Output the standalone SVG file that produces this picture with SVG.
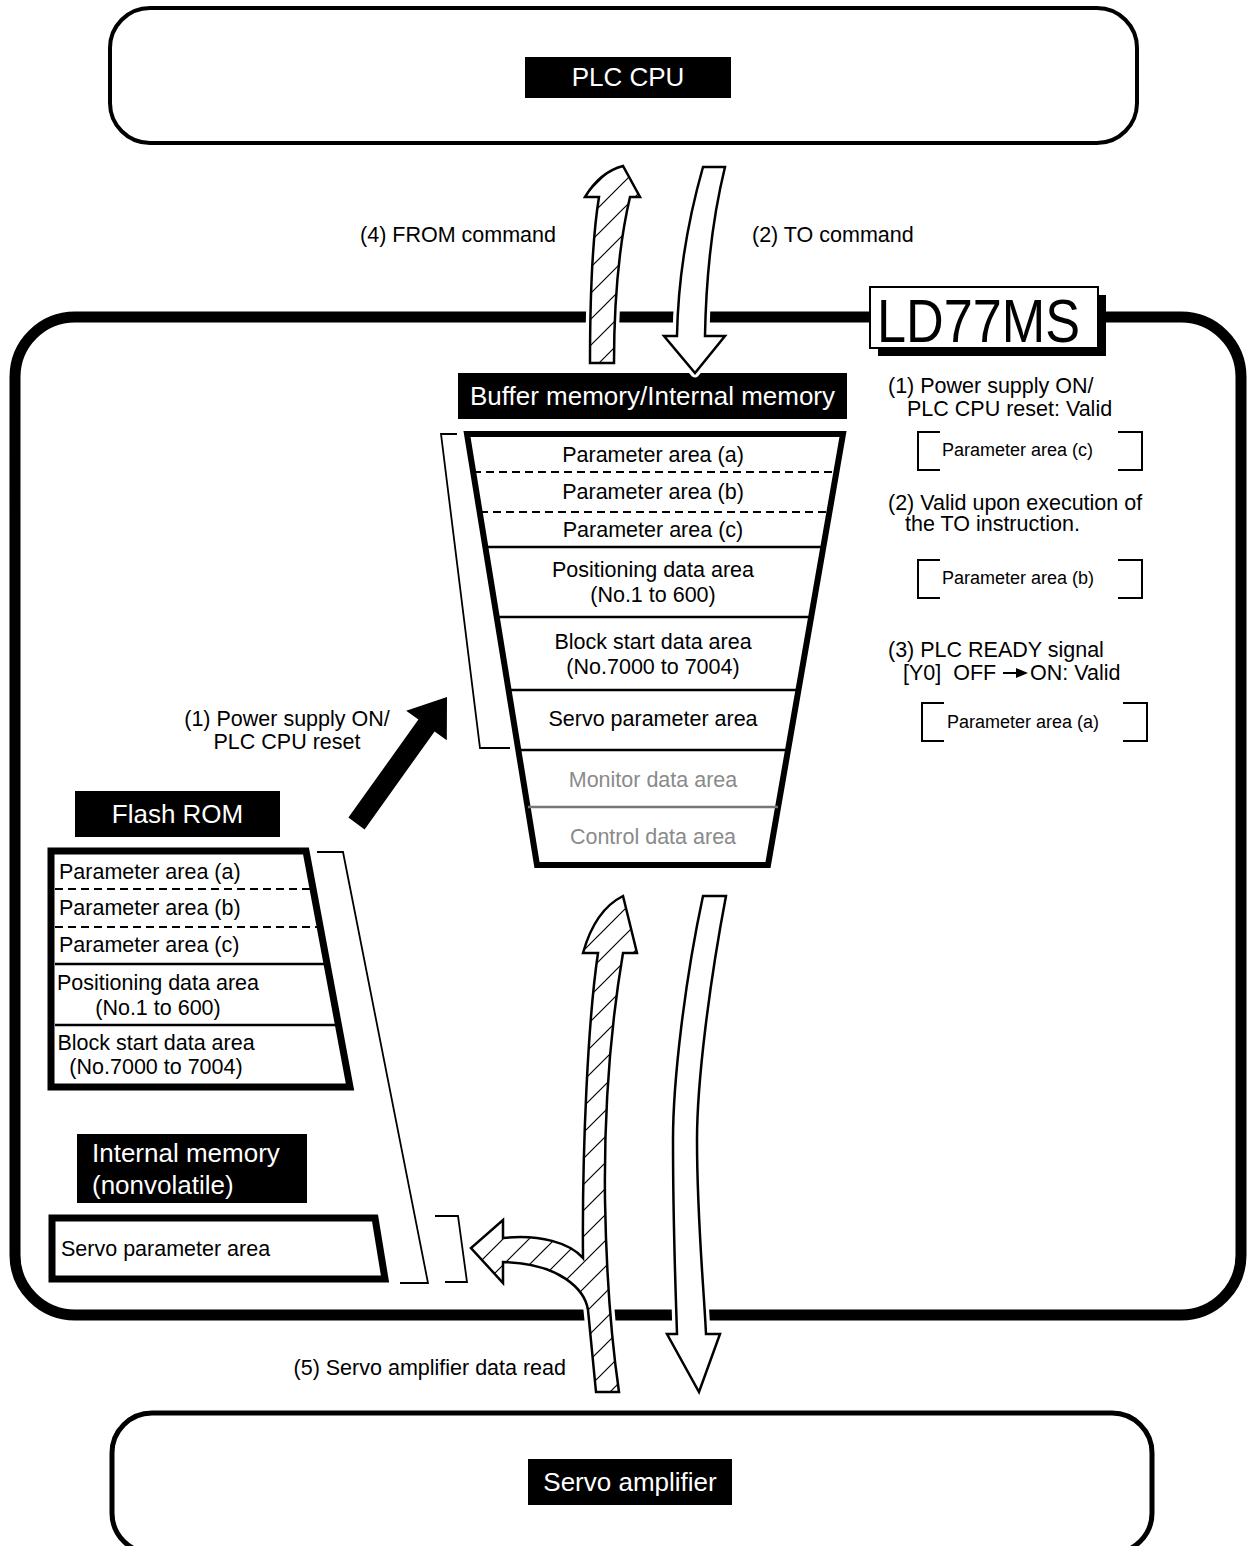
<svg xmlns="http://www.w3.org/2000/svg" width="1247" height="1546" viewBox="0 0 1247 1546">
<defs>
<pattern id="hatch" patternUnits="userSpaceOnUse" width="26" height="26">
<rect width="26" height="26" fill="#fff"/>
<path d="M-6.5,6.5 L6.5,-6.5 M0,26 L26,0 M19.5,32.5 L32.5,19.5" stroke="#000" stroke-width="1.2"/>
</pattern>
<style>
text{font-family:"Liberation Sans",Arial,Helvetica,sans-serif;fill:#000}
.t{font-size:21.5px}
.s{font-size:18px}
.w{font-size:26px;fill:#fff}
.g{fill:#8a8a8a}
.mid{text-anchor:middle}
.end{text-anchor:end}
.lbl{fill:#000}
.dash{stroke:#000;stroke-width:2.2;stroke-dasharray:8 5;fill:none}
.sol{stroke:#000;stroke-width:2.6;fill:none}
.thin{stroke:#000;stroke-width:1.8;fill:none}
.brk{stroke:#000;stroke-width:2;fill:none}
.under{fill:none;stroke:#fff;stroke-width:9;stroke-linejoin:round}
.hat{fill:url(#hatch);stroke:#000;stroke-width:2.5;stroke-linejoin:miter}
.hol{fill:#fff;stroke:#000;stroke-width:2.5;stroke-linejoin:miter}
</style>
</defs>
<rect width="1247" height="1546" fill="#fff"/>

<g id="plc-cpu">
<rect x="110" y="8" width="1027" height="135" rx="40" fill="none" stroke="#000" stroke-width="4"/>
<rect class="lbl" x="525" y="57" width="206" height="41"/>
<text class="w mid" x="628" y="86">PLC CPU</text>
</g>

<g id="ld77ms">
<rect x="15" y="317" width="1226" height="998" rx="60" fill="none" stroke="#000" stroke-width="11"/>
<rect x="878" y="295" width="228" height="61" fill="#000"/>
<rect x="870" y="287" width="228" height="61" fill="#fff" stroke="#000" stroke-width="2"/>
<text x="877" y="342" font-size="61" textLength="203" lengthAdjust="spacingAndGlyphs">LD77MS</text>
</g>

<g id="servo-amplifier">
<rect x="112" y="1413" width="1040" height="140" rx="40" fill="none" stroke="#000" stroke-width="5"/>
<rect class="lbl" x="528" y="1459" width="204" height="46"/>
<text class="w mid" x="630" y="1491">Servo amplifier</text>
</g>

<g id="buffer-memory">
<rect class="lbl" x="458" y="373" width="389" height="46"/>
<text class="w mid" x="652.5" y="405">Buffer memory/Internal memory</text>
<polygon points="467,434 843,434 768,865 537,865" fill="#fff" stroke="#000" stroke-width="6"/>
<line class="dash" x1="473" y1="472" x2="836" y2="472"/>
<line class="dash" x1="480" y1="512" x2="829" y2="512"/>
<line class="sol" x1="485" y1="547" x2="823" y2="547"/>
<line class="sol" x1="497" y1="617" x2="811" y2="617"/>
<line class="sol" x1="509" y1="690" x2="798" y2="690"/>
<line class="sol" x1="518" y1="750" x2="788" y2="750"/>
<line x1="528" y1="807" x2="778" y2="807" stroke="#777" stroke-width="2.6"/>
<text class="t mid" x="653" y="462">Parameter area (a)</text>
<text class="t mid" x="653" y="499">Parameter area (b)</text>
<text class="t mid" x="653" y="537">Parameter area (c)</text>
<text class="t mid" x="653" y="577">Positioning data area</text>
<text class="t mid" x="653" y="602">(No.1 to 600)</text>
<text class="t mid" x="653" y="649">Block start data area</text>
<text class="t mid" x="653" y="674">(No.7000 to 7004)</text>
<text class="t mid" x="653" y="726">Servo parameter area</text>
<text class="t mid g" x="653" y="787">Monitor data area</text>
<text class="t mid g" x="653" y="844">Control data area</text>
<path class="thin" d="M457,434 H441 L480,748 H510"/>
</g>

<g id="flash-rom">
<rect class="lbl" x="75" y="791" width="205" height="46"/>
<text class="w mid" x="177.5" y="823">Flash ROM</text>
<polygon points="51,851 306,851 350,1087 51,1087" fill="#fff" stroke="#000" stroke-width="7"/>
<line class="dash" x1="55" y1="889" x2="312" y2="889"/>
<line class="dash" x1="55" y1="927" x2="319" y2="927"/>
<line class="sol" x1="55" y1="964" x2="326" y2="964"/>
<line class="sol" x1="55" y1="1025" x2="337" y2="1025"/>
<text class="t" x="59" y="879">Parameter area (a)</text>
<text class="t" x="59" y="915">Parameter area (b)</text>
<text class="t" x="59" y="952">Parameter area (c)</text>
<text class="t mid" x="158" y="990">Positioning data area</text>
<text class="t mid" x="158" y="1015">(No.1 to 600)</text>
<text class="t mid" x="156" y="1050">Block start data area</text>
<text class="t mid" x="156" y="1074">(No.7000 to 7004)</text>
<path class="thin" d="M317,852 H343 L428,1283 H400"/>
</g>

<g id="internal-memory">
<rect class="lbl" x="77" y="1134" width="230" height="69"/>
<text class="w" x="92" y="1162">Internal memory</text>
<text class="w" x="92" y="1194">(nonvolatile)</text>
<polygon points="52,1218 375,1218 385,1279 52,1279" fill="#fff" stroke="#000" stroke-width="7"/>
<text class="t" x="61" y="1256">Servo parameter area</text>
<path class="thin" d="M435,1216 H458 L467,1282 H445"/>
</g>

<g id="notes">
<text class="t" x="888" y="393">(1) Power supply ON/</text>
<text class="t" x="907" y="416">PLC CPU reset: Valid</text>
<path class="brk" d="M940,432 H918 V470 H940 M1118,432 H1142 V470 H1118"/>
<text class="s" x="942" y="456">Parameter area (c)</text>
<text class="t" x="888" y="510">(2) Valid upon execution of</text>
<text class="t" x="905" y="531">the TO instruction.</text>
<path class="brk" d="M940,560 H918 V598 H940 M1118,560 H1142 V598 H1118"/>
<text class="s" x="942" y="584">Parameter area (b)</text>
<text class="t" x="888" y="657">(3) PLC READY signal</text>
<text class="t" x="903" y="680" xml:space="preserve">[Y0]  OFF</text>
<line x1="1003" y1="673" x2="1018" y2="673" stroke="#000" stroke-width="2"/>
<polygon points="1016,668 1028,673 1016,678" fill="#000"/>
<text class="t" x="1030" y="680">ON: Valid</text>
<path class="brk" d="M944,703 H922 V741 H944 M1123,703 H1147 V741 H1123"/>
<text class="s" x="947" y="728">Parameter area (a)</text>
</g>

<g id="connectors">
<path class="under" d="M590,363 C590,300 592,240 599,197 L585,197 Q600,172 623,166 L640,197 L630,197 C620,240 614,300 614,363 Z"/>
<path class="hat" d="M590,363 C590,300 592,240 599,197 L585,197 Q600,172 623,166 L640,197 L630,197 C620,240 614,300 614,363 Z"/>
<text class="t end" x="556" y="242">(4) FROM command</text>

<path class="under" d="M703,167 C688,220 678,280 677,336 L664,336 L695,373 L725,336 L705,336 C706,280 712,220 725,167 Z"/>
<path class="hol" d="M703,167 C688,220 678,280 677,336 L664,336 L695,373 L725,336 L705,336 C706,280 712,220 725,167 Z"/>
<text class="t" x="752" y="242">(2) TO command</text>

<polygon points="348.4,817.6 418.4,719.6 406.2,710.8 447,697 446.8,740.2 434.6,731.4 364.6,829.4" fill="#000"/>
<text class="t mid" x="287" y="726">(1) Power supply ON/</text>
<text class="t mid" x="287" y="749">PLC CPU reset</text>

<path class="under" d="M596,1392 C593,1360 590,1330 588,1310 C585,1290 560,1263 503,1262 L503,1283 L471,1248 L503,1220 L503,1238 C540,1234 570,1243 583,1258 C582,1150 588,1020 598,953 L583,953 Q595,910 623,896 L637,953 L623,953 C610,1030 604,1120 605,1200 C606,1260 610,1330 619,1392 Z"/>
<path class="hat" d="M596,1392 C593,1360 590,1330 588,1310 C585,1290 560,1263 503,1262 L503,1283 L471,1248 L503,1220 L503,1238 C540,1234 570,1243 583,1258 C582,1150 588,1020 598,953 L583,953 Q595,910 623,896 L637,953 L623,953 C610,1030 604,1120 605,1200 C606,1260 610,1330 619,1392 Z"/>
<text class="t end" x="566" y="1375">(5) Servo amplifier data read</text>

<path class="under" d="M703,896 C685,980 673,1080 673,1140 C673,1230 676,1300 677,1334 L667,1334 L699,1392 L720,1334 L706,1334 C704,1290 697,1220 697,1140 C697,1080 710,980 726,896 Z"/>
<path class="hol" d="M703,896 C685,980 673,1080 673,1140 C673,1230 676,1300 677,1334 L667,1334 L699,1392 L720,1334 L706,1334 C704,1290 697,1220 697,1140 C697,1080 710,980 726,896 Z"/>
</g>
</svg>
